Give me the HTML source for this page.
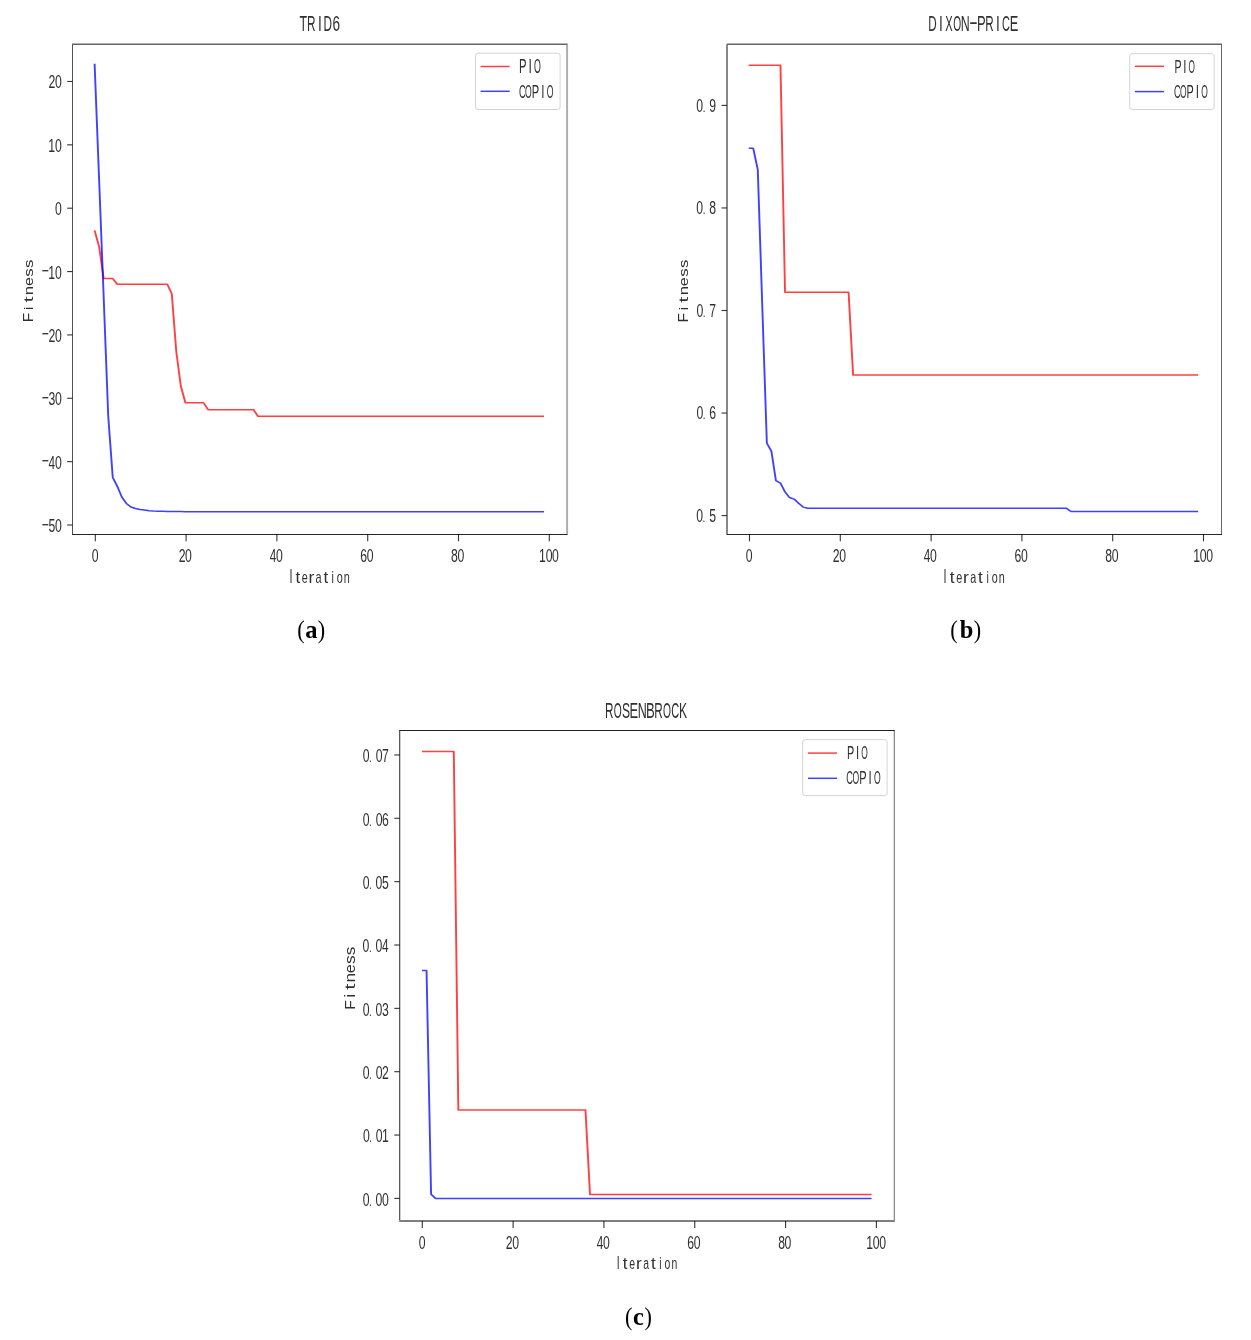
<!DOCTYPE html>
<html><head><meta charset="utf-8"><style>
html,body{margin:0;padding:0;background:#fff;}
body{width:1251px;height:1340px;overflow:hidden;}
svg{display:block;will-change:transform;}

</style></head><body>
<svg width="1251" height="1340" viewBox="0 0 1251 1340">

<g>
<rect width="1251" height="1340" fill="#fff"/>
<polyline transform="scale(1.270,1)" points="74.488,230.38 78.063,246.85 81.638,278.53 85.213,278.53 88.787,278.53 92.362,284.23 95.937,284.23 99.512,284.23 103.087,284.23 106.661,284.23 110.236,284.23 113.811,284.23 117.386,284.23 120.961,284.23 124.535,284.23 128.110,284.23 131.685,284.23 135.260,293.74 138.835,352.03 142.409,386.24 145.984,402.72 149.559,402.72 153.134,402.72 156.709,402.72 160.283,402.72 163.858,409.68 167.433,409.68 171.008,409.68 174.583,409.68 178.157,409.68 181.732,409.68 185.307,409.68 188.882,409.68 192.457,409.68 196.031,409.68 199.606,409.68 203.181,416.34 206.756,416.34 210.331,416.34 213.906,416.34 217.480,416.34 221.055,416.34 224.630,416.34 228.205,416.34 231.780,416.34 235.354,416.34 238.929,416.34 242.504,416.34 246.079,416.34 249.654,416.34 253.228,416.34 256.803,416.34 260.378,416.34 263.953,416.34 267.528,416.34 271.102,416.34 274.677,416.34 278.252,416.34 281.827,416.34 285.402,416.34 288.976,416.34 292.551,416.34 296.126,416.34 299.701,416.34 303.276,416.34 306.850,416.34 310.425,416.34 314.000,416.34 317.575,416.34 321.150,416.34 324.724,416.34 328.299,416.34 331.874,416.34 335.449,416.34 339.024,416.34 342.598,416.34 346.173,416.34 349.748,416.34 353.323,416.34 356.898,416.34 360.472,416.34 364.047,416.34 367.622,416.34 371.197,416.34 374.772,416.34 378.346,416.34 381.921,416.34 385.496,416.34 389.071,416.34 392.646,416.34 396.220,416.34 399.795,416.34 403.370,416.34 406.945,416.34 410.520,416.34 414.094,416.34 417.669,416.34 421.244,416.34 424.819,416.34 428.394,416.34" fill="none" stroke="#ff0000" stroke-opacity="0.75" stroke-width="1.50" stroke-linejoin="round"/>
<polyline transform="scale(1.270,1)" points="74.488,63.74 78.063,180.32 81.638,296.90 85.213,416.02 88.787,477.48 92.362,486.35 95.937,497.12 99.512,503.46 103.087,506.94 106.661,508.53 110.236,509.48 113.811,510.11 117.386,510.74 120.961,511.06 124.535,511.19 128.110,511.31 131.685,511.38 135.260,511.44 138.835,511.50 142.409,511.57 145.984,511.69 149.559,511.69 153.134,511.69 156.709,511.69 160.283,511.69 163.858,511.69 167.433,511.69 171.008,511.69 174.583,511.69 178.157,511.69 181.732,511.69 185.307,511.69 188.882,511.69 192.457,511.69 196.031,511.69 199.606,511.69 203.181,511.69 206.756,511.69 210.331,511.69 213.906,511.69 217.480,511.69 221.055,511.69 224.630,511.69 228.205,511.69 231.780,511.69 235.354,511.69 238.929,511.69 242.504,511.69 246.079,511.69 249.654,511.69 253.228,511.69 256.803,511.69 260.378,511.69 263.953,511.69 267.528,511.69 271.102,511.69 274.677,511.69 278.252,511.69 281.827,511.69 285.402,511.69 288.976,511.69 292.551,511.69 296.126,511.69 299.701,511.69 303.276,511.69 306.850,511.69 310.425,511.69 314.000,511.69 317.575,511.69 321.150,511.69 324.724,511.69 328.299,511.69 331.874,511.69 335.449,511.69 339.024,511.69 342.598,511.69 346.173,511.69 349.748,511.69 353.323,511.69 356.898,511.69 360.472,511.69 364.047,511.69 367.622,511.69 371.197,511.69 374.772,511.69 378.346,511.69 381.921,511.69 385.496,511.69 389.071,511.69 392.646,511.69 396.220,511.69 399.795,511.69 403.370,511.69 406.945,511.69 410.520,511.69 414.094,511.69 417.669,511.69 421.244,511.69 424.819,511.69 428.394,511.69" fill="none" stroke="#0000ff" stroke-opacity="0.75" stroke-width="1.50" stroke-linejoin="round"/>
<line x1="72.00" y1="44.25" x2="567.60" y2="44.25" stroke="#000" stroke-opacity="0.60" stroke-width="1.50"/>
<line x1="72.00" y1="534.50" x2="567.60" y2="534.50" stroke="#000" stroke-opacity="0.85" stroke-width="1.00"/>
<line x1="72.50" y1="45.00" x2="72.50" y2="534.00" stroke="#000" stroke-opacity="0.68" stroke-width="1.00"/>
<line x1="567.10" y1="45.00" x2="567.10" y2="534.00" stroke="#000" stroke-opacity="0.32" stroke-width="2.00"/>
<line x1="95.30" y1="534.20" x2="95.30" y2="541.20" stroke="#000" stroke-opacity="0.80" stroke-width="1.10"/>
<line x1="186.10" y1="534.20" x2="186.10" y2="541.20" stroke="#000" stroke-opacity="0.80" stroke-width="1.10"/>
<line x1="276.90" y1="534.20" x2="276.90" y2="541.20" stroke="#000" stroke-opacity="0.80" stroke-width="1.10"/>
<line x1="367.70" y1="534.20" x2="367.70" y2="541.20" stroke="#000" stroke-opacity="0.80" stroke-width="1.10"/>
<line x1="458.50" y1="534.20" x2="458.50" y2="541.20" stroke="#000" stroke-opacity="0.80" stroke-width="1.10"/>
<line x1="549.30" y1="534.20" x2="549.30" y2="541.20" stroke="#000" stroke-opacity="0.80" stroke-width="1.10"/>
<line x1="67.20" y1="81.48" x2="72.50" y2="81.48" stroke="#000" stroke-opacity="0.80" stroke-width="1.10"/>
<line x1="67.20" y1="144.84" x2="72.50" y2="144.84" stroke="#000" stroke-opacity="0.80" stroke-width="1.10"/>
<line x1="67.20" y1="208.20" x2="72.50" y2="208.20" stroke="#000" stroke-opacity="0.80" stroke-width="1.10"/>
<line x1="67.20" y1="271.56" x2="72.50" y2="271.56" stroke="#000" stroke-opacity="0.80" stroke-width="1.10"/>
<line x1="67.20" y1="334.92" x2="72.50" y2="334.92" stroke="#000" stroke-opacity="0.80" stroke-width="1.10"/>
<line x1="67.20" y1="398.28" x2="72.50" y2="398.28" stroke="#000" stroke-opacity="0.80" stroke-width="1.10"/>
<line x1="67.20" y1="461.64" x2="72.50" y2="461.64" stroke="#000" stroke-opacity="0.80" stroke-width="1.10"/>
<line x1="67.20" y1="525.00" x2="72.50" y2="525.00" stroke="#000" stroke-opacity="0.80" stroke-width="1.10"/>
<g font-family="Liberation Sans" font-size="18.53" fill="#303030"><text transform="matrix(0.6600,0,0,1.0000,91.65,561.70)">0</text></g>
<g font-family="Liberation Sans" font-size="18.53" fill="#303030"><text transform="matrix(0.6600,0,0,1.0000,178.67,561.70)">2</text><text transform="matrix(0.6600,0,0,1.0000,185.12,561.70)">0</text></g>
<g font-family="Liberation Sans" font-size="18.53" fill="#303030"><text transform="matrix(0.6354,0,0,1.0000,269.64,561.70)">4</text><text transform="matrix(0.6600,0,0,1.0000,275.92,561.70)">0</text></g>
<g font-family="Liberation Sans" font-size="18.53" fill="#303030"><text transform="matrix(0.6600,0,0,1.0000,360.23,561.70)">6</text><text transform="matrix(0.6600,0,0,1.0000,366.72,561.70)">0</text></g>
<g font-family="Liberation Sans" font-size="18.53" fill="#303030"><text transform="matrix(0.6600,0,0,1.0000,451.07,561.70)">8</text><text transform="matrix(0.6600,0,0,1.0000,457.52,561.70)">0</text></g>
<g font-family="Liberation Sans" font-size="18.53" fill="#303030"><text transform="matrix(0.6600,0,0,1.0000,539.03,561.70)">1</text><text transform="matrix(0.6600,0,0,1.0000,545.65,561.70)">0</text><text transform="matrix(0.6600,0,0,1.0000,552.10,561.70)">0</text></g>
<g font-family="Liberation Sans" font-size="18.53" fill="#303030"><text transform="matrix(0.6600,0,0,1.0000,48.43,88.48)">2</text><text transform="matrix(0.6600,0,0,1.0000,54.88,88.48)">0</text></g>
<g font-family="Liberation Sans" font-size="18.53" fill="#303030"><text transform="matrix(0.6600,0,0,1.0000,48.26,151.84)">1</text><text transform="matrix(0.6600,0,0,1.0000,54.88,151.84)">0</text></g>
<g font-family="Liberation Sans" font-size="18.53" fill="#303030"><text transform="matrix(0.6600,0,0,1.0000,54.88,215.20)">0</text></g>
<g font-family="Liberation Sans" font-size="18.53" fill="#303030"><text transform="matrix(0.6591,0,0,1.0000,41.81,277.06)">−</text><text transform="matrix(0.6600,0,0,1.0000,48.26,278.56)">1</text><text transform="matrix(0.6600,0,0,1.0000,54.88,278.56)">0</text></g>
<g font-family="Liberation Sans" font-size="18.53" fill="#303030"><text transform="matrix(0.6591,0,0,1.0000,41.81,340.42)">−</text><text transform="matrix(0.6600,0,0,1.0000,48.43,341.92)">2</text><text transform="matrix(0.6600,0,0,1.0000,54.88,341.92)">0</text></g>
<g font-family="Liberation Sans" font-size="18.53" fill="#303030"><text transform="matrix(0.6591,0,0,1.0000,41.81,403.78)">−</text><text transform="matrix(0.6600,0,0,1.0000,48.46,405.28)">3</text><text transform="matrix(0.6600,0,0,1.0000,54.88,405.28)">0</text></g>
<g font-family="Liberation Sans" font-size="18.53" fill="#303030"><text transform="matrix(0.6591,0,0,1.0000,41.81,467.14)">−</text><text transform="matrix(0.6354,0,0,1.0000,48.59,468.64)">4</text><text transform="matrix(0.6600,0,0,1.0000,54.88,468.64)">0</text></g>
<g font-family="Liberation Sans" font-size="18.53" fill="#303030"><text transform="matrix(0.6591,0,0,1.0000,41.81,530.50)">−</text><text transform="matrix(0.6600,0,0,1.0000,48.44,532.00)">5</text><text transform="matrix(0.6600,0,0,1.0000,54.88,532.00)">0</text></g>
<g font-family="Liberation Sans" font-size="21.95" fill="#303030"><text transform="matrix(0.5641,0,0,1.0000,299.52,31.10)">T</text><text transform="matrix(0.5372,0,0,1.0000,307.07,31.10)">R</text><text transform="matrix(0.6200,0,0,1.0000,317.89,31.10)">I</text><text transform="matrix(0.5385,0,0,1.0000,323.55,31.10)">D</text><text transform="matrix(0.6200,0,0,1.0000,332.43,31.10)">6</text></g>
<g font-family="Liberation Sans" font-size="19.77" fill="#303030"><text transform="matrix(0.5500,0,0,1.0000,289.40,583.20)">I</text><text transform="matrix(0.8579,0,0,0.8300,295.47,583.20)">t</text><text transform="matrix(0.5500,0,0,0.8300,301.87,583.20)">e</text><text transform="matrix(0.8764,0,0,0.8300,308.55,583.20)">r</text><text transform="matrix(0.5500,0,0,0.8300,315.59,583.20)">a</text><text transform="matrix(0.8579,0,0,0.8300,323.41,583.20)">t</text><text transform="matrix(0.5500,0,0,0.8300,331.61,583.20)">i</text><text transform="matrix(0.5500,0,0,0.8300,336.78,583.20)">o</text><text transform="matrix(0.5500,0,0,0.8300,343.76,583.20)">n</text></g>
<g transform="translate(32.90,321.00) scale(0.720,1) rotate(-90)" font-family="Liberation Sans" font-size="19.78" fill="#303030"><text transform="matrix(0.7829,0,0,1.0000,-1.27,0.00)">F</text><text transform="matrix(0.8500,0,0,0.9600,10.83,0.00)">i</text><text transform="matrix(1.0930,0,0,0.9600,18.51,0.00)">t</text><text transform="matrix(0.8500,0,0,0.9600,25.82,0.00)">n</text><text transform="matrix(0.8155,0,0,0.9600,34.95,0.00)">e</text><text transform="matrix(0.8500,0,0,0.9600,44.19,0.00)">s</text><text transform="matrix(0.8500,0,0,0.9600,53.10,0.00)">s</text></g>
<rect x="475.50" y="53.20" width="84.60" height="56.30" rx="2.5" fill="#fff" fill-opacity="0.8" stroke="#d4d4d4" stroke-width="1"/>
<line x1="480.60" y1="66.50" x2="509.70" y2="66.50" stroke="#ff0000" stroke-opacity="0.75" stroke-width="1.50"/>
<line x1="480.60" y1="91.30" x2="509.70" y2="91.30" stroke="#0000ff" stroke-opacity="0.75" stroke-width="1.50"/>
<g font-family="Liberation Sans" font-size="19.77" fill="#303030"><text transform="matrix(0.5731,0,0,1.0000,519.07,72.90)">P</text><text transform="matrix(0.6200,0,0,1.0000,528.50,72.90)">I</text><text transform="matrix(0.4468,0,0,1.0000,533.95,72.90)">O</text></g>
<g font-family="Liberation Sans" font-size="18.60" fill="#303030"><text transform="matrix(0.5021,0,0,1.0000,518.93,98.00)">C</text><text transform="matrix(0.4658,0,0,1.0000,525.02,98.00)">O</text><text transform="matrix(0.5974,0,0,1.0000,531.81,98.00)">P</text><text transform="matrix(0.6200,0,0,1.0000,541.25,98.00)">I</text><text transform="matrix(0.4658,0,0,1.0000,546.87,98.00)">O</text></g>
<text transform="matrix(0.860,0,0,1,297.22,638.07)" font-family="Liberation Serif" font-size="25.90">(</text>
<text transform="matrix(0.860,0,0,1,317.86,638.07)" font-family="Liberation Serif" font-size="25.90">)</text>
<text transform="matrix(0.981,0,0,1,305.21,637.77)" font-family="Liberation Serif" font-weight="bold" font-size="25.00">a</text>
<polyline transform="scale(1.270,1)" points="589.528,65.20 593.102,65.20 596.677,65.20 600.252,65.20 603.827,65.20 607.402,65.20 610.976,65.20 614.551,65.20 618.126,292.25 621.701,292.25 625.276,292.25 628.850,292.25 632.425,292.25 636.000,292.25 639.575,292.25 643.150,292.25 646.724,292.25 650.299,292.25 653.874,292.25 657.449,292.25 661.024,292.25 664.598,292.25 668.173,292.25 671.748,375.11 675.323,375.11 678.898,375.11 682.472,375.11 686.047,375.11 689.622,375.11 693.197,375.11 696.772,375.11 700.346,375.11 703.921,375.11 707.496,375.11 711.071,375.11 714.646,375.11 718.220,375.11 721.795,375.11 725.370,375.11 728.945,375.11 732.520,375.11 736.094,375.11 739.669,375.11 743.244,375.11 746.819,375.11 750.394,375.11 753.969,375.11 757.543,375.11 761.118,375.11 764.693,375.11 768.268,375.11 771.843,375.11 775.417,375.11 778.992,375.11 782.567,375.11 786.142,375.11 789.717,375.11 793.291,375.11 796.866,375.11 800.441,375.11 804.016,375.11 807.591,375.11 811.165,375.11 814.740,375.11 818.315,375.11 821.890,375.11 825.465,375.11 829.039,375.11 832.614,375.11 836.189,375.11 839.764,375.11 843.339,375.11 846.913,375.11 850.488,375.11 854.063,375.11 857.638,375.11 861.213,375.11 864.787,375.11 868.362,375.11 871.937,375.11 875.512,375.11 879.087,375.11 882.661,375.11 886.236,375.11 889.811,375.11 893.386,375.11 896.961,375.11 900.535,375.11 904.110,375.11 907.685,375.11 911.260,375.11 914.835,375.11 918.409,375.11 921.984,375.11 925.559,375.11 929.134,375.11 932.709,375.11 936.283,375.11 939.858,375.11 943.433,375.11" fill="none" stroke="#ff0000" stroke-opacity="0.75" stroke-width="1.50" stroke-linejoin="round"/>
<polyline transform="scale(1.270,1)" points="589.528,148.27 593.102,148.27 596.677,169.70 600.252,307.42 603.827,443.20 607.402,451.10 610.976,480.73 614.551,483.09 618.126,491.91 621.701,497.55 625.276,499.09 628.850,503.29 632.425,507.09 636.000,508.32 639.575,508.32 643.150,508.32 646.724,508.32 650.299,508.32 653.874,508.32 657.449,508.32 661.024,508.32 664.598,508.32 668.173,508.32 671.748,508.32 675.323,508.32 678.898,508.32 682.472,508.32 686.047,508.32 689.622,508.32 693.197,508.32 696.772,508.32 700.346,508.32 703.921,508.32 707.496,508.32 711.071,508.32 714.646,508.32 718.220,508.32 721.795,508.32 725.370,508.32 728.945,508.32 732.520,508.32 736.094,508.32 739.669,508.32 743.244,508.32 746.819,508.32 750.394,508.32 753.969,508.32 757.543,508.32 761.118,508.32 764.693,508.32 768.268,508.32 771.843,508.32 775.417,508.32 778.992,508.32 782.567,508.32 786.142,508.32 789.717,508.32 793.291,508.32 796.866,508.32 800.441,508.32 804.016,508.32 807.591,508.32 811.165,508.32 814.740,508.32 818.315,508.32 821.890,508.32 825.465,508.32 829.039,508.32 832.614,508.32 836.189,508.32 839.764,508.32 843.339,511.50 846.913,511.50 850.488,511.50 854.063,511.50 857.638,511.50 861.213,511.50 864.787,511.50 868.362,511.50 871.937,511.50 875.512,511.50 879.087,511.50 882.661,511.50 886.236,511.50 889.811,511.50 893.386,511.50 896.961,511.50 900.535,511.50 904.110,511.50 907.685,511.50 911.260,511.50 914.835,511.50 918.409,511.50 921.984,511.50 925.559,511.50 929.134,511.50 932.709,511.50 936.283,511.50 939.858,511.50 943.433,511.50" fill="none" stroke="#0000ff" stroke-opacity="0.75" stroke-width="1.50" stroke-linejoin="round"/>
<line x1="726.50" y1="44.25" x2="1222.00" y2="44.25" stroke="#000" stroke-opacity="0.60" stroke-width="1.50"/>
<line x1="726.50" y1="534.50" x2="1222.00" y2="534.50" stroke="#000" stroke-opacity="0.85" stroke-width="1.00"/>
<line x1="727.00" y1="45.00" x2="727.00" y2="534.00" stroke="#000" stroke-opacity="0.47" stroke-width="2.00"/>
<line x1="1221.50" y1="45.00" x2="1221.50" y2="534.00" stroke="#000" stroke-opacity="0.60" stroke-width="1.00"/>
<line x1="749.50" y1="534.30" x2="749.50" y2="541.30" stroke="#000" stroke-opacity="0.80" stroke-width="1.10"/>
<line x1="840.30" y1="534.30" x2="840.30" y2="541.30" stroke="#000" stroke-opacity="0.80" stroke-width="1.10"/>
<line x1="931.10" y1="534.30" x2="931.10" y2="541.30" stroke="#000" stroke-opacity="0.80" stroke-width="1.10"/>
<line x1="1021.90" y1="534.30" x2="1021.90" y2="541.30" stroke="#000" stroke-opacity="0.80" stroke-width="1.10"/>
<line x1="1112.70" y1="534.30" x2="1112.70" y2="541.30" stroke="#000" stroke-opacity="0.80" stroke-width="1.10"/>
<line x1="1203.50" y1="534.30" x2="1203.50" y2="541.30" stroke="#000" stroke-opacity="0.80" stroke-width="1.10"/>
<line x1="721.50" y1="515.60" x2="726.80" y2="515.60" stroke="#000" stroke-opacity="0.80" stroke-width="1.10"/>
<line x1="721.50" y1="413.05" x2="726.80" y2="413.05" stroke="#000" stroke-opacity="0.80" stroke-width="1.10"/>
<line x1="721.50" y1="310.50" x2="726.80" y2="310.50" stroke="#000" stroke-opacity="0.80" stroke-width="1.10"/>
<line x1="721.50" y1="207.95" x2="726.80" y2="207.95" stroke="#000" stroke-opacity="0.80" stroke-width="1.10"/>
<line x1="721.50" y1="105.40" x2="726.80" y2="105.40" stroke="#000" stroke-opacity="0.80" stroke-width="1.10"/>
<g font-family="Liberation Sans" font-size="18.53" fill="#303030"><text transform="matrix(0.6600,0,0,1.0000,745.85,561.80)">0</text></g>
<g font-family="Liberation Sans" font-size="18.53" fill="#303030"><text transform="matrix(0.6600,0,0,1.0000,832.87,561.80)">2</text><text transform="matrix(0.6600,0,0,1.0000,839.32,561.80)">0</text></g>
<g font-family="Liberation Sans" font-size="18.53" fill="#303030"><text transform="matrix(0.6354,0,0,1.0000,923.84,561.80)">4</text><text transform="matrix(0.6600,0,0,1.0000,930.12,561.80)">0</text></g>
<g font-family="Liberation Sans" font-size="18.53" fill="#303030"><text transform="matrix(0.6600,0,0,1.0000,1014.43,561.80)">6</text><text transform="matrix(0.6600,0,0,1.0000,1020.92,561.80)">0</text></g>
<g font-family="Liberation Sans" font-size="18.53" fill="#303030"><text transform="matrix(0.6600,0,0,1.0000,1105.27,561.80)">8</text><text transform="matrix(0.6600,0,0,1.0000,1111.72,561.80)">0</text></g>
<g font-family="Liberation Sans" font-size="18.53" fill="#303030"><text transform="matrix(0.6600,0,0,1.0000,1193.23,561.80)">1</text><text transform="matrix(0.6600,0,0,1.0000,1199.85,561.80)">0</text><text transform="matrix(0.6600,0,0,1.0000,1206.30,561.80)">0</text></g>
<g font-family="Liberation Sans" font-size="18.53" fill="#303030"><text transform="matrix(0.6600,0,0,1.0000,696.30,521.75)">0</text><text transform="matrix(0.5280,0,0,0.8000,702.60,521.75)">.</text><text transform="matrix(0.6600,0,0,1.0000,709.21,521.75)">5</text></g>
<g font-family="Liberation Sans" font-size="18.53" fill="#303030"><text transform="matrix(0.6600,0,0,1.0000,696.38,419.20)">0</text><text transform="matrix(0.5280,0,0,0.8000,702.68,419.20)">.</text><text transform="matrix(0.6600,0,0,1.0000,709.24,419.20)">6</text></g>
<g font-family="Liberation Sans" font-size="18.53" fill="#303030"><text transform="matrix(0.6600,0,0,1.0000,696.42,316.65)">0</text><text transform="matrix(0.5280,0,0,0.8000,702.72,316.65)">.</text><text transform="matrix(0.6600,0,0,1.0000,709.31,316.65)">7</text></g>
<g font-family="Liberation Sans" font-size="18.53" fill="#303030"><text transform="matrix(0.6600,0,0,1.0000,696.33,214.10)">0</text><text transform="matrix(0.5280,0,0,0.8000,702.63,214.10)">.</text><text transform="matrix(0.6600,0,0,1.0000,709.23,214.10)">8</text></g>
<g font-family="Liberation Sans" font-size="18.53" fill="#303030"><text transform="matrix(0.6600,0,0,1.0000,696.37,111.55)">0</text><text transform="matrix(0.5280,0,0,0.8000,702.67,111.55)">.</text><text transform="matrix(0.6600,0,0,1.0000,709.28,111.55)">9</text></g>
<g font-family="Liberation Sans" font-size="21.95" fill="#303030"><text transform="matrix(0.5327,0,0,1.0000,928.24,31.10)">D</text><text transform="matrix(0.6200,0,0,1.0000,938.92,31.10)">I</text><text transform="matrix(0.5060,0,0,1.0000,945.25,31.10)">X</text><text transform="matrix(0.4622,0,0,1.0000,953.16,31.10)">O</text><text transform="matrix(0.5648,0,0,1.0000,960.77,31.10)">N</text><text transform="matrix(1.2163,0,0,1.0000,968.96,28.53)">-</text><text transform="matrix(0.5928,0,0,1.0000,977.02,31.10)">P</text><text transform="matrix(0.5314,0,0,1.0000,985.28,31.10)">R</text><text transform="matrix(0.6200,0,0,1.0000,995.95,31.10)">I</text><text transform="matrix(0.4982,0,0,1.0000,1001.97,31.10)">C</text><text transform="matrix(0.5821,0,0,1.0000,1009.63,31.10)">E</text></g>
<g font-family="Liberation Sans" font-size="19.62" fill="#303030"><text transform="matrix(0.5500,0,0,1.0000,943.60,583.20)">I</text><text transform="matrix(0.8770,0,0,0.8300,949.73,583.20)">t</text><text transform="matrix(0.5500,0,0,0.8300,956.29,583.20)">e</text><text transform="matrix(0.8958,0,0,0.8300,963.00,583.20)">r</text><text transform="matrix(0.5500,0,0,0.8300,970.23,583.20)">a</text><text transform="matrix(0.8770,0,0,0.8300,978.09,583.20)">t</text><text transform="matrix(0.5500,0,0,0.8300,986.44,583.20)">i</text><text transform="matrix(0.5500,0,0,0.8300,991.72,583.20)">o</text><text transform="matrix(0.5500,0,0,0.8300,998.80,583.20)">n</text></g>
<g transform="translate(688.20,321.30) scale(0.720,1) rotate(-90)" font-family="Liberation Sans" font-size="19.78" fill="#303030"><text transform="matrix(0.7870,0,0,1.0000,-1.28,0.00)">F</text><text transform="matrix(0.8500,0,0,0.9600,10.90,0.00)">i</text><text transform="matrix(1.0988,0,0,0.9600,18.61,0.00)">t</text><text transform="matrix(0.8500,0,0,0.9600,25.98,0.00)">n</text><text transform="matrix(0.8198,0,0,0.9600,35.13,0.00)">e</text><text transform="matrix(0.8500,0,0,0.9600,44.44,0.00)">s</text><text transform="matrix(0.8500,0,0,0.9600,53.40,0.00)">s</text></g>
<rect x="1129.70" y="53.60" width="84.40" height="55.90" rx="2.5" fill="#fff" fill-opacity="0.8" stroke="#d4d4d4" stroke-width="1"/>
<line x1="1134.90" y1="66.30" x2="1164.00" y2="66.30" stroke="#ff0000" stroke-opacity="0.75" stroke-width="1.50"/>
<line x1="1134.90" y1="91.60" x2="1164.00" y2="91.60" stroke="#0000ff" stroke-opacity="0.75" stroke-width="1.50"/>
<g font-family="Liberation Sans" font-size="18.46" fill="#303030"><text transform="matrix(0.5716,0,0,1.0000,1174.53,72.70)">P</text><text transform="matrix(0.6200,0,0,1.0000,1183.31,72.70)">I</text><text transform="matrix(0.4456,0,0,1.0000,1188.39,72.70)">O</text></g>
<g font-family="Liberation Sans" font-size="19.04" fill="#303030"><text transform="matrix(0.4790,0,0,1.0000,1173.94,97.80)">C</text><text transform="matrix(0.4444,0,0,1.0000,1179.89,97.80)">O</text><text transform="matrix(0.5699,0,0,1.0000,1186.51,97.80)">P</text><text transform="matrix(0.6200,0,0,1.0000,1195.66,97.80)">I</text><text transform="matrix(0.4444,0,0,1.0000,1201.22,97.80)">O</text></g>
<text transform="matrix(0.860,0,0,1,950.22,638.07)" font-family="Liberation Serif" font-size="25.90">(</text>
<text transform="matrix(0.860,0,0,1,973.86,638.07)" font-family="Liberation Serif" font-size="25.90">)</text>
<text transform="matrix(0.978,0,0,1,959.69,637.77)" font-family="Liberation Serif" font-weight="bold" font-size="25.00">b</text>
<polyline transform="scale(1.270,1)" points="332.283,751.59 335.859,751.59 339.435,751.59 343.010,751.59 346.586,751.59 350.161,751.59 353.737,751.59 357.313,751.59 360.888,1110.03 364.464,1110.03 368.039,1110.03 371.615,1110.03 375.191,1110.03 378.766,1110.03 382.342,1110.03 385.917,1110.03 389.493,1110.03 393.069,1110.03 396.644,1110.03 400.220,1110.03 403.795,1110.03 407.371,1110.03 410.946,1110.03 414.522,1110.03 418.098,1110.03 421.673,1110.03 425.249,1110.03 428.824,1110.03 432.400,1110.03 435.976,1110.03 439.551,1110.03 443.127,1110.03 446.702,1110.03 450.278,1110.03 453.854,1110.03 457.429,1110.03 461.005,1110.03 464.580,1194.60 468.156,1194.60 471.731,1194.60 475.307,1194.60 478.883,1194.60 482.458,1194.60 486.034,1194.60 489.609,1194.60 493.185,1194.60 496.761,1194.60 500.336,1194.60 503.912,1194.60 507.487,1194.60 511.063,1194.60 514.639,1194.60 518.214,1194.60 521.790,1194.60 525.365,1194.60 528.941,1194.60 532.517,1194.60 536.092,1194.60 539.668,1194.60 543.243,1194.60 546.819,1194.60 550.394,1194.60 553.970,1194.60 557.546,1194.60 561.121,1194.60 564.697,1194.60 568.272,1194.60 571.848,1194.60 575.424,1194.60 578.999,1194.60 582.575,1194.60 586.150,1194.60 589.726,1194.60 593.302,1194.60 596.877,1194.60 600.453,1194.60 604.028,1194.60 607.604,1194.60 611.180,1194.60 614.755,1194.60 618.331,1194.60 621.906,1194.60 625.482,1194.60 629.057,1194.60 632.633,1194.60 636.209,1194.60 639.784,1194.60 643.360,1194.60 646.935,1194.60 650.511,1194.60 654.087,1194.60 657.662,1194.60 661.238,1194.60 664.813,1194.60 668.389,1194.60 671.965,1194.60 675.540,1194.60 679.116,1194.60 682.691,1194.60 686.267,1194.60" fill="none" stroke="#ff0000" stroke-opacity="0.75" stroke-width="1.50" stroke-linejoin="round"/>
<polyline transform="scale(1.270,1)" points="332.283,970.40 335.859,970.40 339.435,1194.28 343.010,1198.40 346.586,1198.40 350.161,1198.40 353.737,1198.40 357.313,1198.40 360.888,1198.40 364.464,1198.40 368.039,1198.40 371.615,1198.40 375.191,1198.40 378.766,1198.40 382.342,1198.40 385.917,1198.40 389.493,1198.40 393.069,1198.40 396.644,1198.40 400.220,1198.40 403.795,1198.40 407.371,1198.40 410.946,1198.40 414.522,1198.40 418.098,1198.40 421.673,1198.40 425.249,1198.40 428.824,1198.40 432.400,1198.40 435.976,1198.40 439.551,1198.40 443.127,1198.40 446.702,1198.40 450.278,1198.40 453.854,1198.40 457.429,1198.40 461.005,1198.40 464.580,1198.40 468.156,1198.40 471.731,1198.40 475.307,1198.40 478.883,1198.40 482.458,1198.40 486.034,1198.40 489.609,1198.40 493.185,1198.40 496.761,1198.40 500.336,1198.40 503.912,1198.40 507.487,1198.40 511.063,1198.40 514.639,1198.40 518.214,1198.40 521.790,1198.40 525.365,1198.40 528.941,1198.40 532.517,1198.40 536.092,1198.40 539.668,1198.40 543.243,1198.40 546.819,1198.40 550.394,1198.40 553.970,1198.40 557.546,1198.40 561.121,1198.40 564.697,1198.40 568.272,1198.40 571.848,1198.40 575.424,1198.40 578.999,1198.40 582.575,1198.40 586.150,1198.40 589.726,1198.40 593.302,1198.40 596.877,1198.40 600.453,1198.40 604.028,1198.40 607.604,1198.40 611.180,1198.40 614.755,1198.40 618.331,1198.40 621.906,1198.40 625.482,1198.40 629.057,1198.40 632.633,1198.40 636.209,1198.40 639.784,1198.40 643.360,1198.40 646.935,1198.40 650.511,1198.40 654.087,1198.40 657.662,1198.40 661.238,1198.40 664.813,1198.40 668.389,1198.40 671.965,1198.40 675.540,1198.40 679.116,1198.40 682.691,1198.40 686.267,1198.40" fill="none" stroke="#0000ff" stroke-opacity="0.75" stroke-width="1.50" stroke-linejoin="round"/>
<line x1="399.15" y1="730.50" x2="894.85" y2="730.50" stroke="#000" stroke-opacity="0.87" stroke-width="1.00"/>
<line x1="399.15" y1="1221.00" x2="894.85" y2="1221.00" stroke="#000" stroke-opacity="0.50" stroke-width="2.00"/>
<line x1="399.65" y1="731.00" x2="399.65" y2="1220.00" stroke="#000" stroke-opacity="0.65" stroke-width="1.30"/>
<line x1="894.35" y1="731.00" x2="894.35" y2="1220.00" stroke="#000" stroke-opacity="0.45" stroke-width="1.30"/>
<line x1="422.30" y1="1221.00" x2="422.30" y2="1228.00" stroke="#000" stroke-opacity="0.80" stroke-width="1.10"/>
<line x1="513.12" y1="1221.00" x2="513.12" y2="1228.00" stroke="#000" stroke-opacity="0.80" stroke-width="1.10"/>
<line x1="603.94" y1="1221.00" x2="603.94" y2="1228.00" stroke="#000" stroke-opacity="0.80" stroke-width="1.10"/>
<line x1="694.76" y1="1221.00" x2="694.76" y2="1228.00" stroke="#000" stroke-opacity="0.80" stroke-width="1.10"/>
<line x1="785.58" y1="1221.00" x2="785.58" y2="1228.00" stroke="#000" stroke-opacity="0.80" stroke-width="1.10"/>
<line x1="876.40" y1="1221.00" x2="876.40" y2="1228.00" stroke="#000" stroke-opacity="0.80" stroke-width="1.10"/>
<line x1="394.30" y1="1198.40" x2="399.60" y2="1198.40" stroke="#000" stroke-opacity="0.80" stroke-width="1.10"/>
<line x1="394.30" y1="1135.05" x2="399.60" y2="1135.05" stroke="#000" stroke-opacity="0.80" stroke-width="1.10"/>
<line x1="394.30" y1="1071.70" x2="399.60" y2="1071.70" stroke="#000" stroke-opacity="0.80" stroke-width="1.10"/>
<line x1="394.30" y1="1008.35" x2="399.60" y2="1008.35" stroke="#000" stroke-opacity="0.80" stroke-width="1.10"/>
<line x1="394.30" y1="945.00" x2="399.60" y2="945.00" stroke="#000" stroke-opacity="0.80" stroke-width="1.10"/>
<line x1="394.30" y1="881.65" x2="399.60" y2="881.65" stroke="#000" stroke-opacity="0.80" stroke-width="1.10"/>
<line x1="394.30" y1="818.30" x2="399.60" y2="818.30" stroke="#000" stroke-opacity="0.80" stroke-width="1.10"/>
<line x1="394.30" y1="754.95" x2="399.60" y2="754.95" stroke="#000" stroke-opacity="0.80" stroke-width="1.10"/>
<g font-family="Liberation Sans" font-size="18.53" fill="#303030"><text transform="matrix(0.6600,0,0,1.0000,418.65,1248.50)">0</text></g>
<g font-family="Liberation Sans" font-size="18.53" fill="#303030"><text transform="matrix(0.6600,0,0,1.0000,505.69,1248.50)">2</text><text transform="matrix(0.6600,0,0,1.0000,512.14,1248.50)">0</text></g>
<g font-family="Liberation Sans" font-size="18.53" fill="#303030"><text transform="matrix(0.6354,0,0,1.0000,596.68,1248.50)">4</text><text transform="matrix(0.6600,0,0,1.0000,602.96,1248.50)">0</text></g>
<g font-family="Liberation Sans" font-size="18.53" fill="#303030"><text transform="matrix(0.6600,0,0,1.0000,687.29,1248.50)">6</text><text transform="matrix(0.6600,0,0,1.0000,693.78,1248.50)">0</text></g>
<g font-family="Liberation Sans" font-size="18.53" fill="#303030"><text transform="matrix(0.6600,0,0,1.0000,778.15,1248.50)">8</text><text transform="matrix(0.6600,0,0,1.0000,784.60,1248.50)">0</text></g>
<g font-family="Liberation Sans" font-size="18.53" fill="#303030"><text transform="matrix(0.6600,0,0,1.0000,866.13,1248.50)">1</text><text transform="matrix(0.6600,0,0,1.0000,872.75,1248.50)">0</text><text transform="matrix(0.6600,0,0,1.0000,879.20,1248.50)">0</text></g>
<g font-family="Liberation Sans" font-size="18.53" fill="#303030"><text transform="matrix(0.6600,0,0,1.0000,362.63,1205.70)">0</text><text transform="matrix(0.5280,0,0,0.8000,368.92,1205.70)">.</text><text transform="matrix(0.6600,0,0,1.0000,375.53,1205.70)">0</text><text transform="matrix(0.6600,0,0,1.0000,381.98,1205.70)">0</text></g>
<g font-family="Liberation Sans" font-size="18.53" fill="#303030"><text transform="matrix(0.6600,0,0,1.0000,362.91,1142.35)">0</text><text transform="matrix(0.5280,0,0,0.8000,369.21,1142.35)">.</text><text transform="matrix(0.6600,0,0,1.0000,375.81,1142.35)">0</text><text transform="matrix(0.6600,0,0,1.0000,382.09,1142.35)">1</text></g>
<g font-family="Liberation Sans" font-size="18.53" fill="#303030"><text transform="matrix(0.6600,0,0,1.0000,362.76,1079.00)">0</text><text transform="matrix(0.5280,0,0,0.8000,369.06,1079.00)">.</text><text transform="matrix(0.6600,0,0,1.0000,375.66,1079.00)">0</text><text transform="matrix(0.6600,0,0,1.0000,382.11,1079.00)">2</text></g>
<g font-family="Liberation Sans" font-size="18.53" fill="#303030"><text transform="matrix(0.6600,0,0,1.0000,362.65,1015.65)">0</text><text transform="matrix(0.5280,0,0,0.8000,368.95,1015.65)">.</text><text transform="matrix(0.6600,0,0,1.0000,375.55,1015.65)">0</text><text transform="matrix(0.6600,0,0,1.0000,382.04,1015.65)">3</text></g>
<g font-family="Liberation Sans" font-size="18.53" fill="#303030"><text transform="matrix(0.6600,0,0,1.0000,362.58,952.30)">0</text><text transform="matrix(0.5280,0,0,0.8000,368.88,952.30)">.</text><text transform="matrix(0.6600,0,0,1.0000,375.48,952.30)">0</text><text transform="matrix(0.6354,0,0,1.0000,382.10,952.30)">4</text></g>
<g font-family="Liberation Sans" font-size="18.53" fill="#303030"><text transform="matrix(0.6600,0,0,1.0000,362.65,888.95)">0</text><text transform="matrix(0.5280,0,0,0.8000,368.95,888.95)">.</text><text transform="matrix(0.6600,0,0,1.0000,375.55,888.95)">0</text><text transform="matrix(0.6600,0,0,1.0000,382.01,888.95)">5</text></g>
<g font-family="Liberation Sans" font-size="18.53" fill="#303030"><text transform="matrix(0.6600,0,0,1.0000,362.73,825.60)">0</text><text transform="matrix(0.5280,0,0,0.8000,369.03,825.60)">.</text><text transform="matrix(0.6600,0,0,1.0000,375.63,825.60)">0</text><text transform="matrix(0.6600,0,0,1.0000,382.04,825.60)">6</text></g>
<g font-family="Liberation Sans" font-size="18.53" fill="#303030"><text transform="matrix(0.6600,0,0,1.0000,362.77,762.25)">0</text><text transform="matrix(0.5280,0,0,0.8000,369.07,762.25)">.</text><text transform="matrix(0.6600,0,0,1.0000,375.67,762.25)">0</text><text transform="matrix(0.6600,0,0,1.0000,382.11,762.25)">7</text></g>
<g font-family="Liberation Sans" font-size="22.82" fill="#303030"><text transform="matrix(0.5152,0,0,1.0000,605.04,717.70)">R</text><text transform="matrix(0.4481,0,0,1.0000,613.73,717.70)">O</text><text transform="matrix(0.5313,0,0,1.0000,621.88,717.70)">S</text><text transform="matrix(0.5644,0,0,1.0000,629.58,717.70)">E</text><text transform="matrix(0.5476,0,0,1.0000,637.83,717.70)">N</text><text transform="matrix(0.5747,0,0,1.0000,645.99,717.70)">B</text><text transform="matrix(0.5152,0,0,1.0000,654.32,717.70)">R</text><text transform="matrix(0.4481,0,0,1.0000,663.01,717.70)">O</text><text transform="matrix(0.4830,0,0,1.0000,671.15,717.70)">C</text><text transform="matrix(0.5331,0,0,1.0000,678.92,717.70)">K</text></g>
<g font-family="Liberation Sans" font-size="18.90" fill="#303030"><text transform="matrix(0.5500,0,0,1.0000,616.74,1269.40)">I</text><text transform="matrix(0.9027,0,0,0.8300,622.77,1269.40)">t</text><text transform="matrix(0.5500,0,0,0.8300,629.36,1269.40)">e</text><text transform="matrix(0.9221,0,0,0.8300,635.93,1269.40)">r</text><text transform="matrix(0.5500,0,0,0.8300,643.18,1269.40)">a</text><text transform="matrix(0.9027,0,0,0.8300,650.88,1269.40)">t</text><text transform="matrix(0.5500,0,0,0.8300,659.19,1269.40)">i</text><text transform="matrix(0.5500,0,0,0.8300,664.48,1269.40)">o</text><text transform="matrix(0.5500,0,0,0.8300,671.50,1269.40)">n</text></g>
<g transform="translate(354.50,1008.50) scale(0.720,1) rotate(-90)" font-family="Liberation Sans" font-size="20.39" fill="#303030"><text transform="matrix(0.7648,0,0,1.0000,-1.28,0.00)">F</text><text transform="matrix(0.8500,0,0,0.9600,10.86,0.00)">i</text><text transform="matrix(1.0677,0,0,0.9600,18.64,0.00)">t</text><text transform="matrix(0.8500,0,0,0.9600,25.88,0.00)">n</text><text transform="matrix(0.7966,0,0,0.9600,35.18,0.00)">e</text><text transform="matrix(0.8500,0,0,0.9600,44.39,0.00)">s</text><text transform="matrix(0.8500,0,0,0.9600,53.36,0.00)">s</text></g>
<rect x="802.70" y="739.60" width="84.40" height="56.00" rx="2.5" fill="#fff" fill-opacity="0.8" stroke="#d4d4d4" stroke-width="1"/>
<line x1="808.00" y1="753.10" x2="837.00" y2="753.10" stroke="#ff0000" stroke-opacity="0.75" stroke-width="1.50"/>
<line x1="808.00" y1="778.30" x2="837.00" y2="778.30" stroke="#0000ff" stroke-opacity="0.75" stroke-width="1.50"/>
<g font-family="Liberation Sans" font-size="18.60" fill="#303030"><text transform="matrix(0.5820,0,0,1.0000,847.01,759.20)">P</text><text transform="matrix(0.6200,0,0,1.0000,856.05,759.20)">I</text><text transform="matrix(0.4538,0,0,1.0000,861.24,759.20)">O</text></g>
<g font-family="Liberation Sans" font-size="18.60" fill="#303030"><text transform="matrix(0.4991,0,0,1.0000,846.33,784.30)">C</text><text transform="matrix(0.4630,0,0,1.0000,852.39,784.30)">O</text><text transform="matrix(0.5939,0,0,1.0000,859.13,784.30)">P</text><text transform="matrix(0.6200,0,0,1.0000,868.51,784.30)">I</text><text transform="matrix(0.4630,0,0,1.0000,874.11,784.30)">O</text></g>
<text transform="matrix(0.860,0,0,1,624.92,1324.97)" font-family="Liberation Serif" font-size="25.90">(</text>
<text transform="matrix(0.860,0,0,1,644.46,1324.97)" font-family="Liberation Serif" font-size="25.90">)</text>
<text transform="matrix(0.977,0,0,1,632.96,1324.67)" font-family="Liberation Serif" font-weight="bold" font-size="25.00">c</text>
</g>
</svg>
</body></html>
